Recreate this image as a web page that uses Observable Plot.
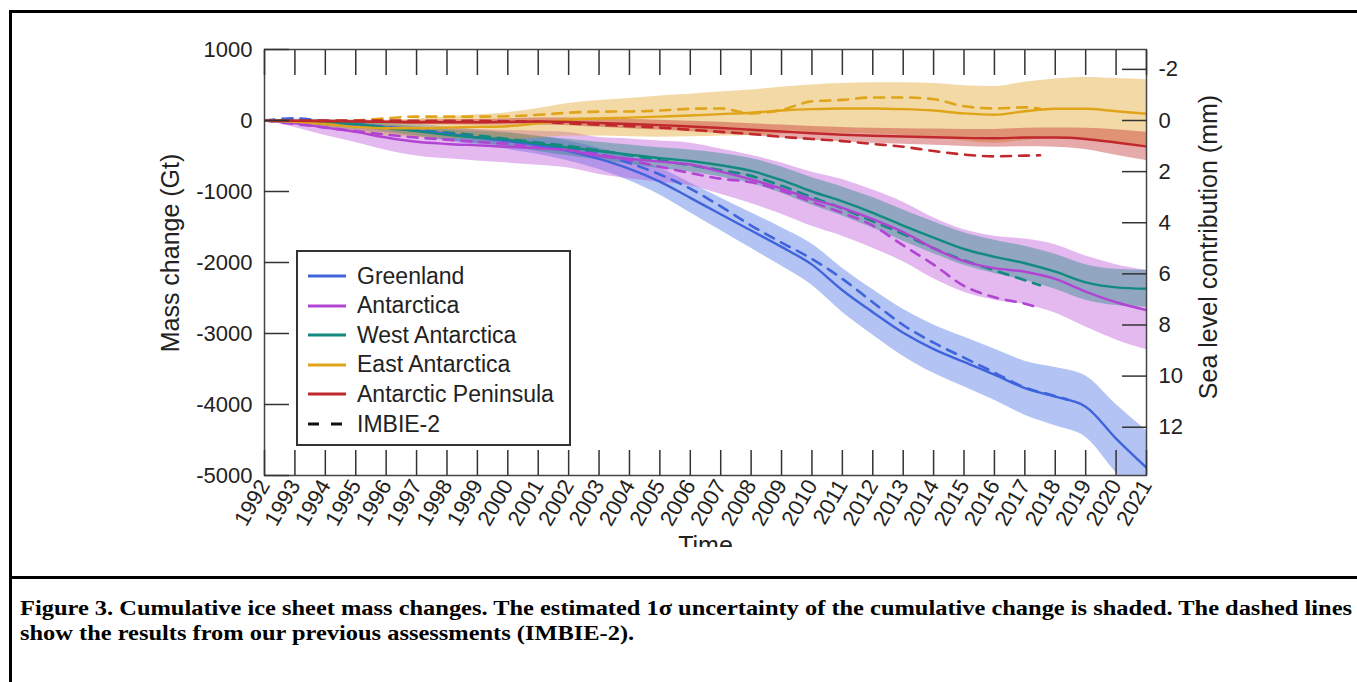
<!DOCTYPE html>
<html><head><meta charset="utf-8">
<script src="https://cdn.jsdelivr.net/npm/d3@7"></script>
<script src="https://cdn.jsdelivr.net/npm/@observablehq/plot@0.6"></script>
<style>
html,body{margin:0;padding:0;background:#fff;}
body{width:1357px;height:682px;overflow:hidden;position:relative;font-family:"Liberation Sans",Arial,sans-serif;}
#fig{position:absolute;left:0;top:0;width:1357px;height:547px;overflow:hidden;}
#fig svg{position:absolute;left:0;top:0;}
.bl{position:absolute;background:#000;z-index:5;}
.title{position:absolute;width:0;height:0;z-index:3;}
.title span{position:absolute;left:0;top:0;white-space:nowrap;font-size:25px;color:#222;transform:translate(-50%,-50%) rotate(-90deg);}
#legend{position:absolute;left:296px;top:250px;width:271px;height:192px;border:2px solid #333;background:#fff;z-index:4;}
#legend .row{position:absolute;left:0;height:30px;display:flex;align-items:center;}
#legend .row svg{margin-left:10px;width:40px;height:10px;}
#legend .row span{margin-left:9px;font-size:23px;color:#222;white-space:nowrap;}
#caption{position:absolute;left:20px;top:596px;font-family:"Liberation Serif","Times New Roman",serif;font-weight:bold;font-size:20px;line-height:25px;color:#000;white-space:nowrap;transform-origin:0 0;}
#caption span{display:inline-block;}
</style></head>
<body>
<div id="fig"></div>
<div class="bl" style="left:9px;top:10px;width:1348px;height:3px"></div>
<div class="bl" style="left:9px;top:10px;width:3px;height:672px"></div>
<div class="bl" style="left:9px;top:576px;width:1348px;height:3px"></div>
<div class="title" style="left:170px;top:253px"><span>Mass change (Gt)</span></div>
<div class="title" style="left:1208px;top:247px"><span>Sea level contribution (mm)</span></div>
<div id="legend"></div>
<div id="caption"><span id="cap1">Figure 3. Cumulative ice sheet mass changes. The estimated 1σ uncertainty of the cumulative change is shaded. The dashed lines</span><br><span id="cap2">show the results from our previous assessments (IMBIE-2).</span></div>
<script>
// ---- categories / ticks ----
const years = [1992,1993,1994,1995,1996,1997,1998,1999,2000,2001,2002,2003,2004,2005,2006,2007,2008,2009,2010,2011,2012,2013,2014,2015,2016,2017,2018,2019,2020,2021];
const gtTicks = [1000,0,-1000,-2000,-3000,-4000,-5000];
const mmTicks = [-2,0,2,4,6,8,10,12];
const GT_PER_MM = 360;

// ---- IMBIE-3 cumulative mass change (Gt) ----
const greenland      = [0,-15,-40,-70,-100,-140,-190,-240,-290,-350,-430,-540,-680,-860,-1090,-1320,-1550,-1780,-2030,-2390,-2700,-2990,-3220,-3400,-3580,-3770,-3890,-4030,-4480,-4890];
const antarctica     = [0,-40,-100,-160,-240,-300,-330,-350,-370,-390,-420,-500,-540,-580,-620,-720,-830,-960,-1110,-1230,-1390,-1570,-1800,-1980,-2080,-2130,-2230,-2410,-2560,-2670];
const westAntarctica = [0,-10,-30,-50,-100,-150,-200,-240,-270,-330,-380,-430,-480,-530,-570,-630,-710,-840,-1000,-1140,-1300,-1480,-1650,-1810,-1920,-2010,-2130,-2280,-2350,-2370];
const eastAntarctica = [0,-20,-50,-90,-110,-110,-100,-90,-80,-40,10,30,40,55,70,90,110,140,160,170,170,160,140,100,80,130,165,165,130,95];
const peninsula      = [0,-5,-10,-15,-20,-25,-25,-25,-20,-15,-20,-35,-50,-65,-85,-105,-130,-155,-180,-200,-215,-225,-235,-245,-250,-240,-240,-260,-310,-365];

// ---- 1-sigma uncertainty (Gt) ----
const greenlandSigma  = [0,30,50,70,80,90,100,110,120,130,140,150,170,190,210,230,250,270,290,310,320,330,340,350,360,380,410,430,480,520];
const antarcticaSigma = [0,60,110,150,180,200,210,220,230,240,250,260,280,290,300,320,340,360,380,400,410,420,430,440,450,460,480,500,530,560];
const westSigma       = [0,20,35,45,55,65,75,85,95,105,115,125,135,145,155,165,175,185,195,205,215,220,225,230,235,240,245,250,255,260];
const eastSigma       = [0,30,60,90,110,130,150,170,190,210,230,250,270,290,300,310,320,330,340,350,360,370,380,390,400,410,420,440,460,480];
const peninsulaSigma  = [0,10,15,20,25,30,35,40,45,50,55,60,65,70,75,80,85,90,95,100,105,110,115,120,125,130,135,150,180,200];

// ---- IMBIE-2 (previous assessment, dashed) ----
const imbie2GreenlandYears = [1992,1993,1994,1995,1996,1997,1998,1999,2000,2001,2002,2003,2004,2005,2006,2007,2008,2009,2010,2011,2012,2013,2014,2015,2016,2017,2018,2018.4];
const imbie2Greenland      = [0,30,-10,-50,-90,-130,-180,-230,-280,-330,-390,-470,-600,-760,-960,-1210,-1480,-1720,-1950,-2230,-2560,-2880,-3130,-3340,-3550,-3760,-3880,-3930];
const imbie2AntYears = [1992,1993,1994,1995,1996,1997,1998,1999,2000,2001,2002,2003,2004,2005,2006,2007,2008,2009,2010,2011,2012,2013,2014,2015,2016,2017,2017.5];
const imbie2Antarctica = [0,-50,-100,-150,-200,-240,-270,-300,-330,-370,-420,-480,-560,-650,-740,-820,-870,-990,-1150,-1300,-1480,-1760,-2030,-2330,-2490,-2580,-2640];
const imbie2West       = [0,-20,-50,-80,-110,-140,-170,-210,-260,-310,-360,-420,-490,-560,-630,-700,-780,-920,-1080,-1240,-1420,-1600,-1800,-1970,-2110,-2250,-2320];
const imbie2East       = [0,-10,-10,0,30,55,55,55,60,80,110,125,127,140,165,170,100,150,270,290,325,325,300,200,170,185,165];
const imbie2Peninsula  = [0,0,0,0,0,-5,-5,-5,-10,-20,-40,-60,-80,-100,-130,-160,-190,-230,-260,-290,-330,-370,-430,-480,-505,-495,-490];

// ---- series table ----
const series = [
  {name:"Greenland",          color:"#4169e1", line:"#3f64dc", v:greenland,      s:greenlandSigma,  iy:imbie2GreenlandYears, iv:imbie2Greenland},
  {name:"Antarctica",         color:"#b84fd9", line:"#b244d4", v:antarctica,     s:antarcticaSigma, iy:imbie2AntYears, iv:imbie2Antarctica},
  {name:"West Antarctica",    color:"#1a8a7e", line:"#138a7f", v:westAntarctica, s:westSigma,       iy:imbie2AntYears, iv:imbie2West},
  {name:"East Antarctica",    color:"#dfa020", line:"#e0a419", v:eastAntarctica, s:eastSigma,       iy:imbie2AntYears, iv:imbie2East},
  {name:"Antarctic Peninsula",color:"#c42a2a", line:"#c0282d", v:peninsula,      s:peninsulaSigma,  iy:imbie2AntYears, iv:imbie2Peninsula}
];
const rows = series.map(S => years.map((y,i) => ({year:y, value:S.v[i], lo:S.v[i]-S.s[i], hi:S.v[i]+S.s[i]})));
const drows = series.map(S => S.iy.map((y,i) => ({year:y, value:S.iv[i]})));

const marks = [];
series.forEach((S,k) => marks.push(Plot.areaY(rows[k], {x:"year", y1:"lo", y2:"hi", fill:S.color, fillOpacity:0.4, curve:"monotone-x", clip:true})));
series.forEach((S,k) => marks.push(Plot.lineY(drows[k], {x:"year", y:"value", stroke:S.line, strokeWidth:2.6, strokeDasharray:"10,8", curve:"monotone-x", clip:true})));
series.forEach((S,k) => marks.push(Plot.lineY(rows[k], {x:"year", y:"value", stroke:S.line, strokeWidth:2.4, curve:"monotone-x", clip:true})));

const mmGt = mmTicks.map(m => -m*GT_PER_MM);
const chart = Plot.plot({
  width:1357, height:560,
  marginLeft:264, marginRight:211, marginTop:49, marginBottom:85,
  x:{domain:[1992,2021]},
  y:{domain:[-5000,1000]},
  style:{background:"transparent", fontFamily:"'Liberation Sans', Arial, sans-serif", fontSize:"22px", color:"#222"},
  marks:[
    ...marks,
    Plot.frame({stroke:"#444", strokeWidth:1.5}),
    Plot.axisX({anchor:"top", ticks:years, tickSize:-25, tickFormat:()=>"", label:null, stroke:"#333", strokeWidth:1.5}),
    Plot.axisX({anchor:"bottom", ticks:years, tickSize:-25, tickFormat:()=>"", label:null, stroke:"#333", strokeWidth:1.5}),
    Plot.axisX({anchor:"bottom", ticks:years, tickSize:0, tickPadding:6, tickRotate:-60, tickFormat:d=>String(d), label:null, fill:"#222"}),
    Plot.axisY({anchor:"left", ticks:gtTicks, tickSize:-25, tickFormat:()=>"", label:null, stroke:"#333", strokeWidth:1.5}),
    Plot.axisY({anchor:"left", ticks:gtTicks, tickSize:0, tickPadding:12, tickFormat:d=>String(d), label:null, fill:"#222"}),
    Plot.axisY({anchor:"right", ticks:mmGt, tickSize:-25, tickFormat:()=>"", label:null, stroke:"#333", strokeWidth:1.5}),
    Plot.axisY({anchor:"right", ticks:mmGt, tickSize:0, tickPadding:12, tickFormat:d=>String(Math.round(-d/GT_PER_MM)), label:null, fill:"#222"}),
    Plot.text(["Time"], {frameAnchor:"bottom", dy:61, fontSize:25, fill:"#222", lineAnchor:"top"})
  ]
});
document.getElementById("fig").appendChild(chart);

// ---- legend ----
const legendItems = series.map(S => ({label:S.name, color:S.line, dash:null})).concat([{label:"IMBIE-2", color:"#111", dash:"11,12"}]);
const lg = document.getElementById("legend");
legendItems.forEach((it,i) => {
  const r = document.createElement("div");
  r.className = "row";
  r.style.top = (9 + i*29.6) + "px";
  r.innerHTML = `<svg viewBox="0 0 40 10"><line x1="0" y1="5" x2="38" y2="5" stroke="${it.color}" stroke-width="3" ${it.dash?`stroke-dasharray="${it.dash}"`:""}/></svg><span>${it.label}</span>`;
  lg.appendChild(r);
});

// ---- caption: stretch horizontally so the first line spans the caption box ----
const cap = document.getElementById("caption");
const w = document.getElementById("cap1").getBoundingClientRect().width;
cap.style.transform = `scaleX(${(1332 / w).toFixed(4)})`;
</script>
</body></html>
